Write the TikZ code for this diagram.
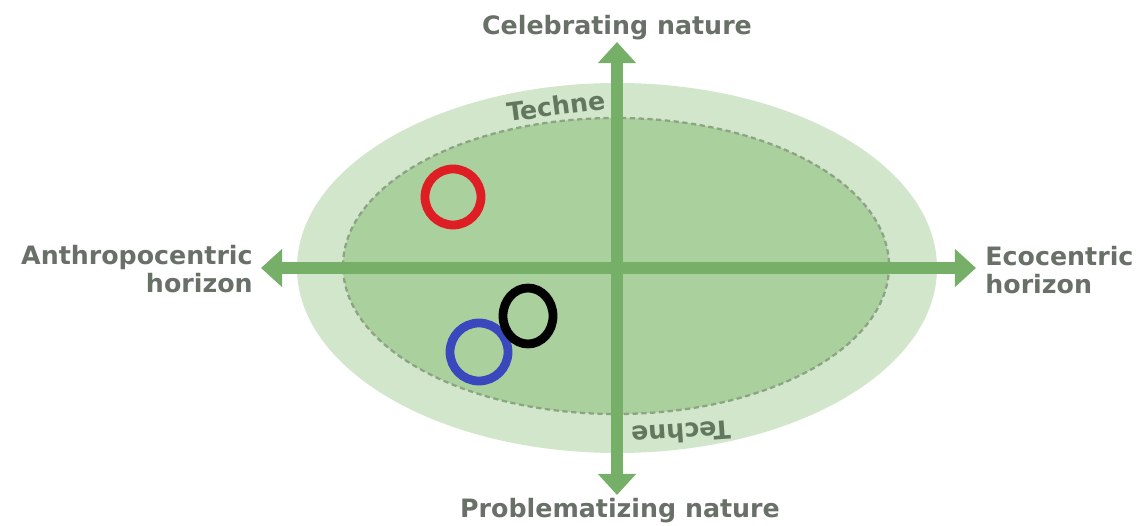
\documentclass[tikz,border=0pt]{standalone}
\usepackage{fontspec}
\setmainfont{DejaVu Sans}
\usetikzlibrary{arrows.meta}

\definecolor{outerfill}{RGB}{210,230,204}
\definecolor{innerfill}{RGB}{170,209,157}
\definecolor{axisgreen}{RGB}{118,176,104}
\definecolor{labelgrey}{RGB}{104,112,104}
\definecolor{technegrey}{RGB}{98,120,94}
\definecolor{rimdash}{RGB}{140,164,132}
\definecolor{markred}{RGB}{222,30,36}
\definecolor{markblue}{RGB}{58,72,190}

\tikzset{
  axislabel/.style={font=\bfseries\fontsize{14.4}{15.6}\selectfont, text=labelgrey, inner sep=0pt},
  technelabel/.style={font=\bfseries\fontsize{14.4}{15.6}\selectfont, text=technegrey, inner sep=0pt},
  axisline/.style={draw=axisgreen, line width=6.5pt,
    {Triangle[width=21pt,length=12pt]}-{Triangle[width=21pt,length=12pt]}},
  marker/.style={line width=5pt},
}

\begin{document}
\begin{tikzpicture}[x=0.02cm, y=-0.02cm]
  \useasboundingbox (0,0) rectangle (1146,526);
  \fill[white] (0,0) rectangle (1146,526);

  % nested horizons
  \coordinate (centre) at (617,268);
  \fill[outerfill] (centre) ellipse [x radius=320, y radius=185];
  \fill[innerfill] (616,266) ellipse [x radius=273, y radius=148];
  \draw[rimdash, line width=1.3pt, dash pattern=on 3pt off 2pt]
    (616,266) ellipse [x radius=273, y radius=148];

  % axis labels
  \node[axislabel, anchor=base] (celebrating) at (617,35) {Celebrating nature};
  \node[axislabel, anchor=base] (problematizing) at (620,518) {Problematizing nature};
  \node[axislabel, anchor=east, align=right] (anthro) at (253,269) {Anthropocentric\\horizon};
  \node[axislabel, anchor=west, align=left] (eco) at (985,270) {Ecocentric\\horizon};

  % axis end points
  \coordinate (top) at (617,42);
  \coordinate (bottom) at (617,495);
  \coordinate (left) at (261,268);
  \coordinate (right) at (976,268);

  \draw[axisline] (left) -- (right);
  \draw[axisline] (bottom) -- (top);

  % Techne rims
  \node[technelabel, rotate=7.5] (techneTop) at (556,106) {Techne};
  \node[technelabel, rotate=184] (techneBottom) at (681,433) {Techne};

  % positions
  \draw[marker, draw=markred] (453,197) ellipse [x radius=28, y radius=28];
  \draw[marker, draw=markblue] (479,352) ellipse [x radius=29, y radius=29];
  \draw[marker, draw=black] (528,316) ellipse [x radius=25, y radius=28];
\end{tikzpicture}
\end{document}
